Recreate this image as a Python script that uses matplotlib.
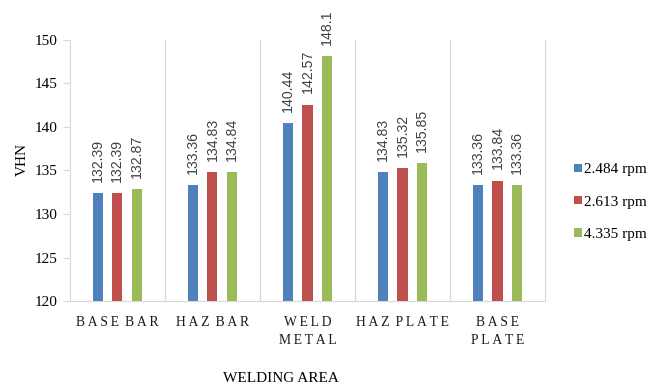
import matplotlib.pyplot as plt
import numpy as np

areas = ["BASE BAR", "HAZ BAR", "WELD\nMETAL", "HAZ PLATE", "BASE\nPLATE"]
speeds = ["2.484 rpm", "2.613 rpm", "4.335 rpm"]
vhn_2484 = [132.39, 133.36, 140.44, 134.83, 133.36]
vhn_2613 = [132.39, 134.83, 142.57, 135.32, 133.84]
vhn_4335 = [132.87, 134.84, 148.1, 135.85, 133.36]

colors = ["#4F81BD", "#C0504D", "#9BBB59"]
serif = ["Liberation Serif", "DejaVu Serif"]
grid_c = "#D9D9D9"
THIN = "\u2009"


def spaced(s):
    # letter-spaced category labels
    lines = []
    for line in s.split("\n"):
        words = [THIN.join(wd) for wd in line.split(" ")]
        lines.append((THIN + " ").join(words))
    return "\n".join(lines)


fig = plt.figure(figsize=(6.59, 3.87), dpi=100)
ax = fig.add_axes([0.106, 0.222, 0.721, 0.675])

x = np.arange(len(areas))
w = 0.107
for i, (vals, c) in enumerate(zip([vhn_2484, vhn_2613, vhn_4335], colors)):
    pos = x + (i - 1) * 0.204
    bars = ax.bar(pos, vals, width=w, color=c, label=speeds[i], zorder=3)
    for b, v in zip(bars, vals):
        ax.annotate(f"{v:g}",
                    (b.get_x() + b.get_width() / 2, v),
                    xytext=(0, 8), textcoords="offset points",
                    rotation=90, ha="center", va="bottom",
                    fontsize=10.2, color="#404040", family="Liberation Sans")

ax.set_ylim(120, 150)
ax.set_yticks(range(120, 151, 5))
ax.set_xlim(-0.5, len(areas) - 0.5)
ax.set_xticks([])
for b in np.arange(0.5, len(areas) - 0.5):
    ax.axvline(b, color=grid_c, lw=0.9, zorder=1)

ax.spines["top"].set_visible(False)
for s in ["left", "right", "bottom"]:
    ax.spines[s].set_color(grid_c)
ax.tick_params(axis="y", length=5, color=grid_c, labelsize=11, pad=4)
for lab in ax.get_yticklabels():
    lab.set_family(serif)

for xi, name in zip(x, areas):
    ax.text(xi, 118.3, spaced(name), ha="center", va="top",
            fontsize=9.8, family=serif, linespacing=1.55, color="#1a1a1a")

fig.text(0.034, 0.589, "VHN", rotation=90, ha="center", va="center",
         fontsize=11, family=serif)
fig.text(0.427, 0.023, "WELDING AREA", ha="center", va="center",
         fontsize=11, family=serif)

leg = fig.legend(loc="center left", bbox_to_anchor=(0.85, 0.478),
                 frameon=False, handlelength=0.5, handleheight=0.5,
                 handletextpad=0.15, labelspacing=1.25,
                 prop={"family": serif, "size": 11})

fig.savefig("out.png", dpi=100)
